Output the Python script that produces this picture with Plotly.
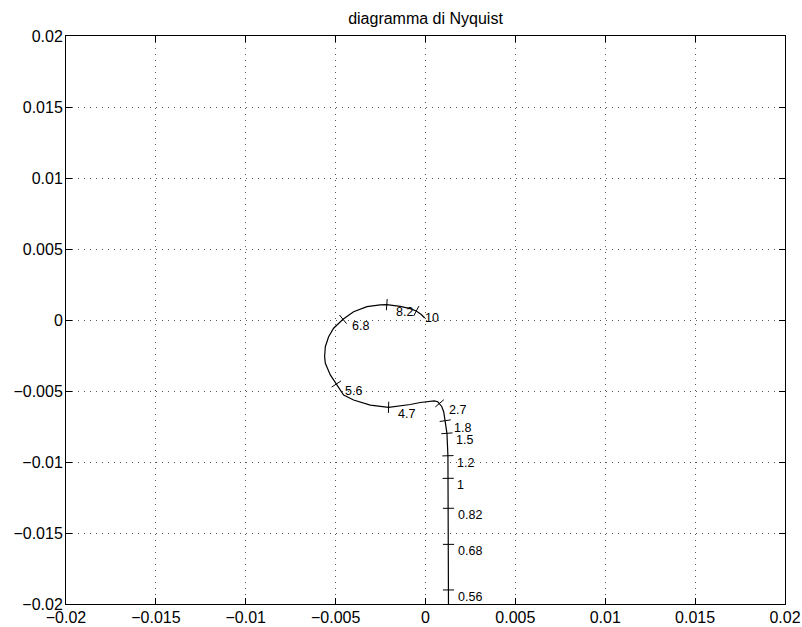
import math
import plotly.graph_objects as go

# ---- data ----
curve_x = [0.00128, 0.00128, 0.00128, 0.00128, 0.001265, 0.001248, 0.001193, 0.001098,
           0.001015, 0.000903, 0.000781, 0.000681, 0.000486, 0.000153, -0.000292,
           -0.000848, -0.001404, -0.002054, -0.003072, -0.004000, -0.004556, -0.004962,
           -0.005295, -0.005573, -0.005612, -0.005573, -0.005390, -0.005112, -0.004589,
           -0.004000, -0.003255, -0.002516, -0.002154, -0.001404, -0.000848, -0.000514,
           -0.000236, -0.000042]
curve_y = [-0.0206, -0.01901, -0.01580, -0.01326, -0.01115, -0.00956, -0.00798, -0.00709,
           -0.00648, -0.00609, -0.00587, -0.00576, -0.00569, -0.00573, -0.00581,
           -0.00595, -0.00606, -0.00615, -0.00599, -0.00563, -0.00528, -0.00451,
           -0.00387, -0.00305, -0.00258, -0.00188, -0.00118, -0.00058, 0.00005,
           0.00058, 0.00094, 0.00106, 0.00108, 0.00096, 0.00080, 0.00063,
           0.00039, 0.00014]

freq_labels = ["0.56", "0.68", "0.82", "1", "1.2", "1.5", "1.8", "2.7",
               "4.7", "5.6", "6.8", "8.2", "10"]
freq_x = [0.00128, 0.00128, 0.00128, 0.001265, 0.001248, 0.001193, 0.001098, 0.000781,
          -0.002054, -0.004962, -0.004589, -0.002154, -0.000514]
freq_y = [-0.01901, -0.01580, -0.01326, -0.01115, -0.00956, -0.00798, -0.00709, -0.00587,
          -0.00615, -0.00451, 0.00005, 0.00108, 0.00063]

axis_tick_vals = [-0.02, -0.015, -0.01, -0.005, 0, 0.005, 0.01, 0.015, 0.02]
axis_tick_text = ["\u22120.02", "\u22120.015", "\u22120.01", "\u22120.005", "0",
                  "0.005", "0.01", "0.015", "0.02"]
title_text = "diagramma di Nyquist"

# ---- layout geometry ----
W, H = 802, 627
ML, MR, MT, MB = 66, 17, 36, 23
XR = [-0.02, 0.02]
YR = [-0.02, 0.02]
sx = (W - ML - MR) / (XR[1] - XR[0])
sy = (H - MT - MB) / (YR[1] - YR[0])

# tick-mark orientation: perpendicular to the curve (in screen space)
angles = []
for fx, fy in zip(freq_x, freq_y):
    i = min(range(len(curve_x)), key=lambda k: (curve_x[k] - fx) ** 2 + (curve_y[k] - fy) ** 2)
    a = max(i - 1, 0)
    b = min(i + 1, len(curve_x) - 1)
    tx = (curve_x[b] - curve_x[a]) * sx
    ty = -(curve_y[b] - curve_y[a]) * sy
    angles.append(math.degrees(math.atan2(tx, -ty)))

FONT = "Liberation Sans, Arial, Helvetica, sans-serif"

fig = go.Figure()
fig.add_trace(go.Scatter(x=curve_x, y=curve_y, mode="lines",
                         line=dict(color="black", width=1.2), hoverinfo="skip",
                         showlegend=False))
fig.add_trace(go.Scatter(x=freq_x, y=freq_y, mode="markers",
                         marker=dict(symbol="line-ew", size=8, angle=angles,
                                     color="black", line=dict(color="black", width=1)),
                         showlegend=False, cliponaxis=False))

for lab, fx, fy in zip(freq_labels, freq_x, freq_y):
    fig.add_annotation(x=fx, y=fy, xref="x", yref="y", text=lab, showarrow=False,
                       xanchor="left", yanchor="middle", xshift=7, yshift=-7,
                       font=dict(family=FONT, size=12.5, color="black"))

axis_common = dict(
    tickvals=axis_tick_vals, ticktext=axis_tick_text,
    showline=True, linecolor="black", linewidth=1, mirror="ticks",
    ticks="inside", ticklen=6, tickcolor="black", tickwidth=1,
    showgrid=True, gridcolor="#555555", gridwidth=1, griddash="1px,5px",
    zeroline=False, tickfont=dict(family=FONT, size=16, color="black"),
    automargin=False,
)
fig.update_xaxes(range=XR, ticklabelstandoff=-1, **axis_common)
fig.update_yaxes(range=YR, ticklabelstandoff=-1, **axis_common)

fig.update_layout(
    width=W, height=H,
    margin=dict(l=ML, r=MR, t=MT, b=MB, pad=0),
    paper_bgcolor="white", plot_bgcolor="white",
    title=dict(text=title_text, x=(ML + (W - ML - MR) / 2) / W, xanchor="center",
               y=1 - 18 / H, yanchor="middle",
               font=dict(family=FONT, size=16, color="black")),
)

fig.write_html("out.html")
